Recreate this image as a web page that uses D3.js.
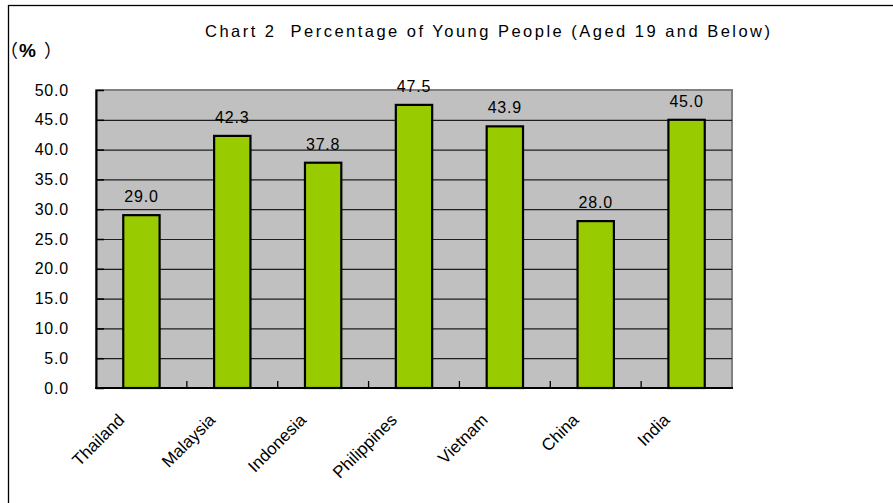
<!DOCTYPE html>
<html>
<head>
<meta charset="utf-8">
<script src="https://cdn.jsdelivr.net/npm/d3@7/dist/d3.min.js"></script>
<style>
  html, body { margin: 0; padding: 0; background: #fff; }
  svg { display: block; }
  text { white-space: pre; }
</style>
</head>
<body>
<script>
// Share of population aged 19 and below, by country (%)
const countries = ["Thailand", "Malaysia", "Indonesia", "Philippines", "Vietnam", "China", "India"];
const youngShare = [29.0, 42.3, 37.8, 47.5, 43.9, 28.0, 45.0];
const yTicks = [0, 5, 10, 15, 20, 25, 30, 35, 40, 45, 50];
const titleText = "Chart 2  Percentage of Young People (Aged 19 and Below)";
const unitParts = ["（", "%", "）"];

const W = 893, H = 503;
const plot = { left: 96, right: 732, top: 90, bottom: 388 };
const latin = "'Liberation Sans', Arial, sans-serif";
const cjk = "'Noto Sans CJK JP', 'Noto Sans CJK SC', sans-serif";

const svg = d3.select("body").append("svg")
  .attr("width", W).attr("height", H);

// outer chart frame (extends past the window on the right and bottom)
svg.append("rect")
  .attr("x", 8.5).attr("y", 5.5)
  .attr("width", 900).attr("height", 520)
  .attr("fill", "#fff").attr("stroke", "#000").attr("stroke-width", 1.3);

const x = d3.scaleBand()
  .domain(countries)
  .range([plot.left, plot.right])
  .paddingInner(0.6)
  .paddingOuter(0.3);

const y = d3.scaleLinear()
  .domain([0, 50])
  .range([plot.bottom, plot.top]);

// plot area background with grey border
svg.append("rect")
  .attr("x", plot.left).attr("y", plot.top)
  .attr("width", plot.right - plot.left).attr("height", plot.bottom - plot.top)
  .attr("fill", "#c0c0c0").attr("stroke", "#808080").attr("stroke-width", 2);

// horizontal gridlines
svg.append("g")
  .attr("transform", `translate(${plot.left},0)`)
  .call(d3.axisLeft(y).tickValues(yTicks.filter(v => v > 0 && v < 50))
    .tickSize(-(plot.right - plot.left)).tickFormat(""))
  .call(g => g.select(".domain").remove())
  .call(g => g.selectAll("line").attr("stroke", "#1e1e1e").attr("stroke-width", 1.2));

// bars
svg.append("g").selectAll("rect")
  .data(countries)
  .join("rect")
  .attr("x", d => x(d))
  .attr("y", (d, i) => y(youngShare[i]))
  .attr("width", x.bandwidth())
  .attr("height", (d, i) => y(0) - y(youngShare[i]))
  .attr("fill", "#99cc00")
  .attr("stroke", "#000")
  .attr("stroke-width", 2.2);

// value labels
svg.append("g").selectAll("text")
  .data(countries)
  .join("text")
  .attr("x", d => x(d) + x.bandwidth() / 2)
  .attr("y", (d, i) => y(youngShare[i]) - 13)
  .attr("text-anchor", "middle")
  .attr("font-family", latin)
  .attr("font-size", 16)
  .attr("letter-spacing", 0.8)
  .attr("fill", "#000")
  .text((d, i) => d3.format(".1f")(youngShare[i]));

// y axis with inward ticks
svg.append("g")
  .attr("transform", `translate(${plot.left},0)`)
  .call(d3.axisLeft(y).tickValues(yTicks).tickFormat(d3.format(".1f"))
    .tickSizeInner(-8).tickSizeOuter(0).tickPadding(27))
  .call(g => g.select(".domain").attr("stroke", "#000").attr("stroke-width", 2))
  .call(g => g.selectAll("line").attr("stroke", "#000").attr("stroke-width", 1.5))
  .call(g => g.selectAll("text")
    .attr("font-family", latin)
    .attr("font-size", 16)
    .attr("letter-spacing", 0.8)
    .attr("fill", "#000"));

// x axis line with inward ticks at category boundaries
const gap = x.step() * x.paddingInner() / 2;
const xAxis = svg.append("g");
xAxis.append("line")
  .attr("x1", plot.left - 1).attr("x2", plot.right + 1)
  .attr("y1", y(0)).attr("y2", y(0))
  .attr("stroke", "#000").attr("stroke-width", 2.2);
xAxis.selectAll(".tick")
  .data(countries.slice(1))
  .join("line")
  .attr("x1", d => x(d) - gap).attr("x2", d => x(d) - gap)
  .attr("y1", y(0)).attr("y2", y(0) - 7)
  .attr("stroke", "#000").attr("stroke-width", 1.3);

// rotated category labels
svg.append("g").selectAll("text")
  .data(countries)
  .join("text")
  .attr("transform", d => `translate(${x(d) + x.bandwidth() / 2 - 16},${plot.bottom + 33}) rotate(-45)`)
  .attr("text-anchor", "end")
  .attr("font-family", latin)
  .attr("font-size", 17)
  .attr("fill", "#000")
  .text(d => d);

// title
svg.append("text")
  .attr("x", 205).attr("y", 37)
  .attr("font-family", latin)
  .attr("font-size", 16.5)
  .attr("textLength", 565)
  .attr("lengthAdjust", "spacing")
  .attr("fill", "#000")
  .text(titleText);

// unit label: full-width brackets around a bold percent sign
const unitX = [0, 19, 44];
const unit = svg.append("text")
  .attr("y", 57)
  .attr("fill", "#000");
unit.selectAll("tspan")
  .data(unitParts)
  .join("tspan")
  .attr("x", (d, i) => unitX[i])
  .attr("font-family", d => d === "%" ? latin : cjk)
  .attr("font-weight", d => d === "%" ? "bold" : "normal")
  .attr("font-size", d => d === "%" ? 19 : 18)
  .text(d => d);
</script>
</body>
</html>
